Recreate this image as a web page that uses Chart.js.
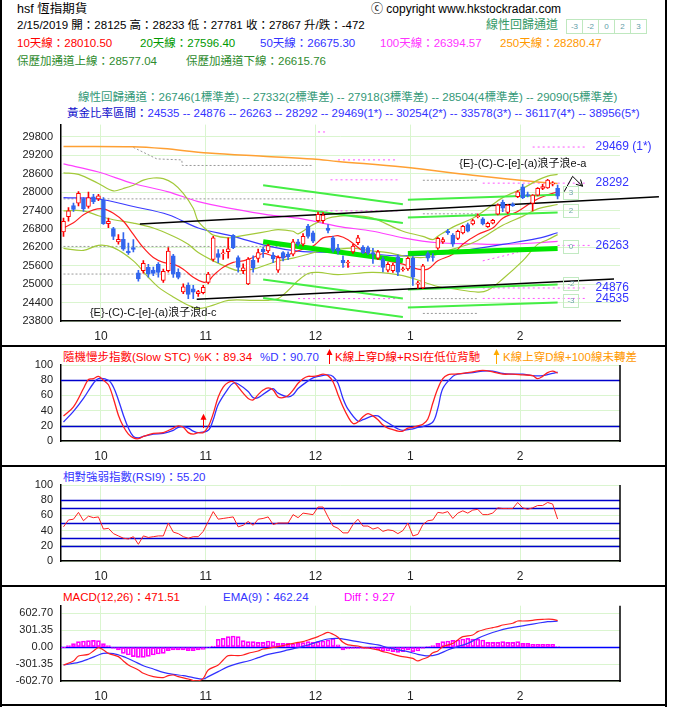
<!DOCTYPE html>
<html>
<head>
<meta charset="utf-8">
<title>hsf 恆指期貨</title>
<script src="https://cdn.jsdelivr.net/npm/chart.js@4.4.1/dist/chart.umd.min.js"></script>
<style>
html,body{margin:0;padding:0;background:#fff}
body{position:relative;width:677px;height:717px;overflow:hidden;font-family:"Liberation Sans","Noto Sans CJK TC",sans-serif;font-size:11.5px;color:#000}
.t{position:absolute;white-space:nowrap;line-height:14px}
canvas{position:absolute;left:0}
.bar{position:absolute;background:#000}
.cells{position:absolute;left:566px;top:19px;height:13px;display:flex;border:1px solid #bfe8bf}
.cells span{width:15px;font-size:8px;line-height:13px;text-align:center;color:#5f9ea8;border-left:1px solid #bfe8bf}
.cells span:first-child{border-left:none}
</style>
</head>
<body>
<div class="bar" style="left:0;top:0;width:2px;height:707px"></div>
<div class="bar" style="left:665px;top:0;width:2px;height:707px"></div>
<div class="bar" style="left:0;top:345px;width:667px;height:2px"></div>
<div class="bar" style="left:0;top:465px;width:667px;height:2px"></div>
<div class="bar" style="left:0;top:585px;width:667px;height:2px"></div>
<div class="bar" style="left:0;top:704px;width:667px;height:2px"></div>

<div class="t" style="left:17px;top:2px;font-size:12.5px">hsf 恆指期貨</div>
<div class="t" style="left:371px;top:2px;font-size:12px">ⓒ copyright www.hkstockradar.com</div>
<div class="t" style="left:17px;top:18px">2/15/2019 開：28125 高：28233 低：27781 收：27867 升/跌：-472</div>
<div class="t" style="left:486px;top:18px;font-size:12px;color:#339966">線性回歸通道</div>
<div class="cells"><span>-3</span><span>-2</span><span>0</span><span>2</span><span>3</span></div>
<div class="t" style="left:17px;top:36px;color:#ff0000">10天線：28010.50</div>
<div class="t" style="left:140px;top:36px;color:#009900">20天線：27596.40</div>
<div class="t" style="left:260px;top:36px;color:#3333ff">50天線：26675.30</div>
<div class="t" style="left:380px;top:36px;color:#ff33ff">100天線：26394.57</div>
<div class="t" style="left:500px;top:36px;color:#ff9900">250天線：28280.47</div>
<div class="t" style="left:17px;top:54px;color:#2e8b2e">保歷加通道上線：28577.04</div>
<div class="t" style="left:186px;top:54px;color:#2e8b2e">保歷加通道下線：26615.76</div>
<div class="t" style="left:78px;top:90px;color:#339977">線性回歸通道：26746(1標準差) -- 27332(2標準差) -- 27918(3標準差) -- 28504(4標準差) -- 29090(5標準差)</div>
<div class="t" style="left:67px;top:106px"><span style="color:#1010cc">黃金比率區間：</span><span style="color:#3333ff">24535 -- 24876 -- 26263 -- 28292 -- 29469(1*) -- 30254(2*) -- 33578(3*) -- 36117(4*) -- 38956(5*)</span></div>

<div class="t" style="left:63px;top:350px;color:#ff0000">隨機慢步指數(Slow STC) %K：89.34</div>
<div class="t" style="left:260px;top:350px;color:#3333ff">%D：90.70</div>
<svg style="position:absolute;left:326px;top:349px" width="7" height="15"><path d="M3.5 0 L6.5 6 L4 6 L4 15 L3 15 L3 6 L0.5 6 Z" fill="#ff0000"/></svg>
<div class="t" style="left:335px;top:350px;color:#ff0000">K線上穿D線+RSI在低位背馳</div>
<svg style="position:absolute;left:493px;top:349px" width="7" height="15"><path d="M3.5 0 L6.5 6 L4 6 L4 15 L3 15 L3 6 L0.5 6 Z" fill="#ffaa00"/></svg>
<div class="t" style="left:503px;top:350px;color:#ff9900">K線上穿D線+100線未轉差</div>
<div class="t" style="left:63px;top:470px;color:#3333ff">相對強弱指數(RSI9)：55.20</div>
<div class="t" style="left:63px;top:590px;color:#ff0000">MACD(12,26)：471.51</div>
<div class="t" style="left:223px;top:590px;color:#3333ff">EMA(9)：462.24</div>
<div class="t" style="left:344px;top:590px;color:#ff00ff">Diff：9.27</div>

<canvas id="main" width="677" height="236" style="top:110px"></canvas>
<canvas id="stc" width="677" height="120" style="top:346px"></canvas>
<canvas id="rsi" width="677" height="120" style="top:466px"></canvas>
<canvas id="macd" width="677" height="120" style="top:586px"></canvas>

<script>
// trading days shown on the chart
const dates = ["9/18","9/19","9/20","9/21","9/24","9/26","9/27","9/28",
"10/2","10/3","10/4","10/5","10/8","10/9","10/10","10/11","10/12","10/15","10/16","10/18","10/19","10/22","10/23","10/24","10/25","10/26","10/29","10/30","10/31",
"11/1","11/2","11/5","11/6","11/7","11/8","11/9","11/12","11/13","11/14","11/15","11/16","11/19","11/20","11/21","11/22","11/23","11/26","11/27","11/28","11/29","11/30",
"12/3","12/4","12/5","12/6","12/7","12/10","12/11","12/12","12/13","12/14","12/17","12/18","12/19","12/20","12/21","12/24","12/27","12/28","12/31",
"1/2","1/3","1/4","1/7","1/8","1/9","1/10","1/11","1/14","1/15","1/16","1/17","1/18","1/21","1/22","1/23","1/24","1/25","1/28","1/29","1/30","1/31",
"2/1","2/4","2/8","2/11","2/12","2/13","2/14","2/15"];
const futureSlots = 12;

const open = [26700,27200,27560,27640,27780,27530,27850,27780,27740,26970,
26810,26380,26460,26080,26190,25370,25440,25550,25460,25650,
25120,25440,25920,25390,24750,24960,24850,24690,24720,25060,
25810,26000,25990,26060,26590,25870,25440,25010,25780,25840,
26140,26080,25950,25460,26030,25980,25980,26380,26300,26890,
26670,27070,27070,26830,26510,26180,25780,25690,26050,26350,
26210,26190,26030,25850,25820,25460,25440,25890,25470,25500,
25850,25000,24880,26000,25900,26170,26380,26720,26600,26490,
26670,26940,26960,27200,27130,26875,26990,27280,27670,27335,
27600,27850,28170,27920,27635,27900,28120,28140,28260,28125];
const high = [27150,27500,27640,28020,27820,28000,27930,27930,27820,27150,
26850,26620,26680,26340,26450,25450,25770,25650,25560,25700,
25490,26190,25970,25500,25010,25040,24960,24800,24960,25390,
26560,26130,26130,26510,26620,25920,25660,25870,25920,26140,
26220,26300,26030,25920,26060,26050,26460,26460,26650,26950,
26730,27350,27330,26940,26560,26300,25920,25780,26300,26590,
26260,26240,26170,26100,25880,25700,25680,25960,25560,25880,
25900,25100,25650,26050,26000,26530,26520,26790,26650,26760,
26920,26990,27110,27290,27170,27020,27110,27620,27740,27600,
27650,28050,28250,28000,27920,28150,28250,28420,28340,28233];
const low = [26560,27050,27370,27550,27370,27480,27620,27720,26950,26840,
26450,26300,26100,25970,26050,25100,25360,25230,25280,25230,
25060,25390,25220,25170,24690,24530,24530,24600,24680,25010,
25750,25700,25810,25850,26160,25390,25340,24980,25390,25720,
25870,26030,25700,25380,25760,25800,25920,26250,26250,26500,
26350,27030,26990,26670,26040,25980,25550,25550,26000,26290,
25990,25960,25680,25800,25400,25400,25380,25280,25420,25450,
24960,24860,24860,25750,25750,26130,26330,26620,26230,26450,
26640,26700,26930,27160,26930,26850,26960,27260,27360,27300,
27530,27820,27790,27840,27390,27880,28080,28120,28200,27781];
const close = [27050,27390,27440,27960,27450,27820,27690,27880,26970,27050,
26560,26460,26140,26030,26130,25170,25680,25330,25350,25380,
25420,26080,25330,25220,24910,24670,24740,24760,24900,25330,
26510,25870,26020,26150,26190,25550,25530,25820,25530,26030,
26060,26260,25820,25870,25850,25890,26380,26300,26560,26560,
26400,27280,27250,26750,26100,26080,25700,25720,26240,26510,
26030,26030,25980,26050,25550,25650,25620,25390,25500,25840,
25225,25040,25600,25850,25870,26490,26450,26680,26300,26725,
26885,26725,27070,27230,26960,26980,27080,27580,27475,27580,
27560,28010,27820,27880,27900,28120,28180,28390,28290,27867];

// moving averages / bands as [day index, value]
const ma10 = [[0,26830],[2,27000],[4,27260],[6,27420],[8,27455],[10,27310],[12,27050],[14,26620],[16,26190],[18,25870],[20,25710],[22,25654],[24,25490],[26,25225],[28,25065],[29,25100],[30,25280],[32,25550],[34,25710],[36,25760],[38,25870],[40,26000],[42,25920],[44,25870],[46,26030],[48,26140],[50,26240],[52,26510],[54,26560],[55,26580],[57,26450],[60,26080],[63,25870],[65,25760],[68,25654],[71,25490],[73,25490],[75,25760],[78,25975],[80,26300],[83,26620],[86,26830],[88,27150],[91,27370],[94,27690],[96,27850],[99,28010.5]];
const ma20 = [[0,27390],[4,27390],[7,27230],[10,27100],[14,26990],[18,26830],[22,26560],[25,26300],[27,26030],[30,25760],[33,25546],[35,25440],[38,25490],[41,25650],[43,25760],[46,25850],[49,25975],[51,26060],[55,26140],[58,26170],[62,26080],[65,26030],[68,25920],[72,25870],[75,25975],[78,26140],[82,26350],[85,26620],[88,26920],[92,27210],[95,27455],[99,27596.4]];
const bollUp = [[0,28630],[3,28580],[7,28280],[10,28040],[12,28118],[14,28225],[16,28390],[18,28460],[20,28440],[22,28280],[24,27960],[26,27475],[27,27046],[29,26725],[30,26600],[33,26510],[35,26560],[38,26640],[41,26725],[43,26780],[46,26725],[47,26640],[50,26940],[53,27150],[55,27210],[58,27240],[62,27150],[65,26940],[68,26725],[72,26560],[74,26450],[75,26560],[78,26860],[82,27150],[85,27475],[88,27820],[92,28118],[95,28390],[97,28520],[99,28577.04]];
const bollDn = [[0,26168],[4,26100],[7,26265],[10,26190],[14,25760],[17,25225],[19,24904],[22,24582],[25,24315],[27,24208],[30,24315],[33,24475],[38,24475],[41,24475],[43,24530],[45,24796],[47,25118],[49,25350],[51,25385],[55,25310],[62,25385],[68,25280],[75,24925],[78,24850],[83,24743],[85,24800],[88,25170],[92,25760],[95,26296],[97,26450],[99,26615.76]];
const ma50 = [[0,27820],[7,27775],[14,27530],[21,27261],[27,26830],[34,26560],[41,26240],[47,26080],[55,26030],[62,25975],[68,25920],[75,25975],[82,26140],[88,26296],[95,26490],[99,26675.3]];
const ma100 = [[0,28920],[7,28654],[14,28280],[21,28010],[27,27690],[34,27455],[41,27260],[47,27150],[55,26885],[62,26725],[68,26511],[75,26350],[82,26318],[88,26296],[95,26350],[99,26394.57]];
const ma250 = [[0,29490],[14,29480],[20,29420],[29,29275],[40,29170],[50,29080],[55,29000],[68,28815],[82,28546],[95,28332],[99,28280.47]];

// regression channels: [from, to], start values, end values (-3,-2,0,2,3 order top→bottom)
const chanOld = {from:40, to:68, start:[28225,27614,26382,25150,24550], end:[27604,26993,25761,24530,23930]};
const chanNow = {from:69, to:99, start:[27755,27169,25997,24825,24239], end:[27918,27332,26160,24988,24402]};
const chanMid = 2;
const trendUpper = [[15.3,26961],[119.3,27850]];
const trendLower = [[26.7,24507],[110.3,25172]];
const projection = [[100.3,28011],[102,28514],[104,28193]];

// dotted reference levels [from, to, value]
const grayStep = [[14,29457],[18.7,29082],[23.7,29050],[23.8,28868],[50,28868]];
const grayLevels = [[0,50,27780],[0,50,26230],[0,50,25330],[72,83,28386],[72,83,27293],[72,83,24529],[72,83,24047]];
const goldLevels = [[51,53,29960],[55,67,29050],[53.5,67.5,28400],[50.5,67.5,27390],[47,67.5,25580],[47,67.5,24530],
  [94,105,29469],[84,105,28292],[99,105.5,26263],[84,105,24876],[84,105,24535]];
const goldRise = [[84,25760],[91,26030]];
const goldLabels = [[106.6,29469,"29469 (1*)"],[106.6,28292,"28292"],[106.6,26263,"26263"],[106.6,24876,"24876"],[106.6,24535,"24535"]];
const chanBoxes = [[101.6,27956,"3"],[101.6,27390,"2"],[101.6,26211,"0"],[101.6,25012,"-2"],[101.6,24443,"-3"]];
const waveLabels = [[5.3,24067,"{E}-(C)-C-[e]-(a)浪子浪d-c"],[79.3,28920,"{E}-(C)-C-[e]-(a)浪子浪e-a"]];
const priceTicks = [23800,24400,25000,25600,26200,26800,27400,28000,28600,29200,29800];

// slow stochastic
const stcK = [[0,33],[2,45],[4,69],[5,81],[6,82],[7,85],[8,80],[9,74],[10,56],[11,34],[12,19],[13,9],[14,4],[15,3],[16,6],[18,10],[20,11],[22,17],[23,20],[24,18],[25,11],[26,9],[27,11],[28,11],[29,19],[30,36],[31,58],[32,71],[33,77],[34,78],[35,71],[36,63],[37,56],[38,54],[39,61],[40,67],[41,70],[42,67],[43,58],[44,57],[45,60],[46,67],[47,76],[48,82],[49,85],[50,85],[51,86],[52,88],[53,86],[54,78],[55,61],[56,45],[57,32],[58,23],[59,25],[60,32],[61,36],[62,33],[63,28],[64,21],[65,17],[66,15],[67,13],[68,13],[69,17],[70,18],[71,20],[72,22],[73,29],[74,50],[75,69],[76,82],[77,87],[78,88],[80,89],[82,91],[84,93],[86,91],[88,88],[90,88],[92,87],[94,86],[95,82],[96,85],[97,90],[98,92],[99,89.34]];
const stcD = [[0,25],[2,39],[4,56],[6,76],[7,82],[9,80],[10,71],[11,54],[12,34],[13,17],[14,6],[15,4],[16,6],[18,9],[20,10],[22,14],[23,18],[24,19],[25,17],[26,13],[27,11],[29,14],[30,28],[31,48],[33,69],[34,76],[35,75],[37,65],[38,57],[39,57],[41,66],[42,69],[43,63],[45,58],[46,61],[47,69],[49,79],[50,83],[51,85],[53,87],[54,85],[55,76],[56,56],[57,42],[59,26],[60,28],[62,33],[63,33],[64,28],[66,20],[67,16],[68,14],[70,16],[71,18],[72,19],[74,25],[75,43],[76,69],[78,85],[79,88],[82,90],[84,92],[86,92],[88,89],[90,88],[92,88],[94,86],[96,86],[98,89],[99,90.7]];
const stcLevels = [80,20];
const stcSignals = [[28,17,36]];
const pctTicks = [0,20,40,60,80,100];

// RSI(9)
const rsi = [45,54,55,64,53,59,57,58,42,43, 36,33,30,29,32,22,33,31,32,33,
33,50,38,36,32,30,32,32,39,52, 65,55,56,57,58,45,47,52,47,55,
56,58,48,50,50,50,61,57,63,62, 61,71,71,58,46,43,37,37,48,55,
46,46,42,44,39,41,40,36,40,50, 33,35,48,53,54,64,63,65,56,63,
66,63,67,68,61,61,63,70,69,69, 69,77,70,68,70,73,73,77,75,55.2];
const rsiLevels = [80,70,50,30,20];

// MACD
const macd = [[0,-318],[2,-246],[3,-157],[5,-128],[6,-68],[7,-9],[8,-50],[9,-110],[11,-169],[12,-246],[13,-318],[15,-407],[16,-466],[18,-525],[20,-543],[21,-508],[22,-496],[23,-525],[25,-567],[26,-595],[27,-600],[28,-555],[29,-407],[31,-318],[32,-229],[33,-151],[35,-151],[36,-140],[37,-110],[39,-68],[40,-33],[41,-21],[43,9],[44,27],[45,50],[47,86],[48,98],[49,128],[51,187],[52,229],[53,264],[54,229],[55,175],[56,86],[57,40],[59,21],[60,-9],[61,-15],[63,-50],[64,-80],[65,-100],[67,-151],[68,-169],[70,-200],[71,-246],[72,-211],[73,-180],[74,-100],[75,-68],[76,9],[78,68],[79,128],[80,187],[82,217],[83,276],[84,306],[86,347],[87,365],[88,395],[90,425],[91,466],[92,466],[94,478],[95,490],[96,496],[98,496],[99,471.51]];
const ema = [[0,-318],[3,-270],[5,-211],[7,-140],[8,-110],[10,-116],[12,-169],[14,-246],[16,-330],[18,-389],[20,-448],[22,-484],[24,-508],[26,-543],[28,-567],[29,-525],[31,-436],[33,-347],[35,-288],[37,-246],[39,-187],[41,-128],[43,-92],[45,-50],[47,-9],[49,39],[51,98],[53,145],[55,157],[57,128],[59,98],[61,68],[63,39],[65,-9],[67,-50],[69,-80],[71,-128],[73,-157],[75,-128],[77,-50],[79,9],[81,68],[83,157],[85,229],[87,288],[89,335],[91,365],[93,395],[95,425],[97,454],[99,462.24]];
const diff = [-5,27,62,98,110,116,122,116,62,27,
-21,-50,-110,-140,-169,-181,-181,-163,-140,-122,
-110,-62,-50,-50,-50,-62,-62,-50,-39,-9,
21,140,157,187,199,187,116,98,98,86,
86,110,98,68,68,68,50,68,80,98,
86,98,110,128,157,40,-50,-33,-21,-21,
-21,-21,-33,-50,-68,-68,-80,-92,-80,-50,
-80,-68,-21,5,27,68,98,110,122,128,
145,157,145,140,128,86,86,86,98,86,
86,98,68,68,50,50,50,50,50,9.27];
const macdTicks = [-602.7,-301.35,0,301.35,602.7];

// ---------- helpers ----------
Chart.defaults.font.family = '"Liberation Sans","Noto Sans CJK TC",sans-serif';
Chart.defaults.font.size = 11;
Chart.defaults.color = '#222';
const gridColor = '#daf5cf';

const monthStarts = [];
dates.forEach((d,i)=>{
  const m = d.split('/')[0];
  if(i>0 && m!==dates[i-1].split('/')[0]) monthStarts.push({i:i, label:m});
});

const P = pairs => pairs.map(([x,y])=>({x:x,y:y}));
const seg = ([x0,x1,v]) => [{x:x0,y:v},{x:x1,y:v}];
function line(data,color,width,more){
  return Object.assign({type:'line',data:data,borderColor:color,borderWidth:width,pointRadius:0,fill:false,tension:0},more||{});
}

function xScale(){
  return {
    type:'linear', min:-0.5, max:dates.length+futureSlots-0.5, offset:false,
    afterBuildTicks: s=>{ s.ticks = monthStarts.map(m=>({value:m.i-0.5})); },
    afterFit: s=>{ s.height = 25; },
    ticks:{autoSkip:false, maxRotation:0, padding:8, font:{size:12},
      callback: v=>{ const m = monthStarts.find(q=>q.i-0.5===v); return m ? m.label : ''; }},
    grid:{color:gridColor, drawTicks:false, offset:false},
    border:{color:'#000', width:1.5}
  };
}
function yScale(min,max,ticks,fmt){
  return {
    min:min, max:max, offset:false,
    afterBuildTicks: s=>{ s.ticks = ticks.map(v=>({value:v})); },
    afterFit: s=>{ s.width = 61; },
    ticks:{padding:8, autoSkip:false, callback:fmt},
    grid:{color:gridColor, drawTicks:false},
    border:{color:'#000', width:1.5}
  };
}

const levels = {
  id:'levels',
  beforeDatasetsDraw(chart,args,o){
    if(!o.values) return;
    const {ctx, chartArea:a, scales:{y}} = chart;
    ctx.save();
    ctx.strokeStyle = o.color; ctx.lineWidth = o.width;
    o.values.forEach(v=>{
      const py = Math.round(y.getPixelForValue(v))+0.5;
      ctx.beginPath(); ctx.moveTo(a.left,py); ctx.lineTo(a.right,py); ctx.stroke();
    });
    ctx.restore();
  }
};
const frame = {
  id:'frame',
  afterDraw(chart,args,o){
    if(!o.right) return;
    const {ctx, chartArea:a} = chart;
    ctx.save();
    ctx.strokeStyle='#000'; ctx.lineWidth=1.5;
    ctx.beginPath(); ctx.moveTo(a.right,a.top); ctx.lineTo(a.right,a.bottom+1); ctx.stroke();
    ctx.restore();
  }
};
const annotate = {
  id:'annotate',
  afterDatasetsDraw(chart,args,o){
    const {ctx, scales:{x,y}} = chart;
    const px = v=>x.getPixelForValue(v), py = v=>y.getPixelForValue(v);
    ctx.save();
    ctx.textBaseline='middle';
    (o.boxes||[]).forEach(([i,v,t])=>{
      const cx=Math.round(px(i)), cy=Math.round(py(v));
      ctx.strokeStyle='#c2eac2'; ctx.lineWidth=1;
      ctx.strokeRect(cx-7.5,cy-6.5,15,13);
      ctx.fillStyle='#6fa3ad'; ctx.font='8px "Liberation Sans"'; ctx.textAlign='center';
      ctx.fillText(t,cx,cy);
    });
    (o.labels||[]).forEach(g=>{
      ctx.fillStyle=g.color; ctx.font=g.font; ctx.textAlign='left';
      g.items.forEach(([i,v,t])=>ctx.fillText(t,px(i),py(v)));
    });
    if(o.head){
      const n=o.head.length, a=o.head[n-2], b=o.head[n-1];
      const x0=px(a[0]), y0=py(a[1]), x1=px(b[0]), y1=py(b[1]);
      const ang=Math.atan2(y1-y0,x1-x0);
      ctx.strokeStyle='#000'; ctx.lineWidth=1; ctx.beginPath();
      [ang+Math.PI-0.5, ang+Math.PI+0.5].forEach(t=>{ ctx.moveTo(x1,y1); ctx.lineTo(x1+7*Math.cos(t),y1+7*Math.sin(t)); });
      ctx.stroke();
    }
    (o.arrows||[]).forEach(([i,v0,v1])=>{
      const cx=Math.round(px(i))+0.5, y0=py(v0), y1=py(v1);
      ctx.strokeStyle=o.arrowColor; ctx.fillStyle=o.arrowColor; ctx.lineWidth=1;
      ctx.beginPath(); ctx.moveTo(cx,y0); ctx.lineTo(cx,y1+4); ctx.stroke();
      ctx.beginPath(); ctx.moveTo(cx,y1); ctx.lineTo(cx-3,y1+6); ctx.lineTo(cx+3,y1+6); ctx.closePath(); ctx.fill();
    });
    ctx.restore();
  }
};

function makeChart(id,padTop,datasets,y,plug){
  return new Chart(document.getElementById(id),{
    type:'line',
    data:{datasets:datasets},
    options:{
      responsive:false, animation:false, events:[],
      layout:{padding:{top:padTop,right:57,left:0,bottom:0}},
      plugins:Object.assign({legend:{display:false},tooltip:{enabled:false}},plug),
      scales:{x:xScale(), y:y}
    },
    plugins:[levels,frame,annotate]
  });
}

// ---------- main price chart ----------
const upColor = '#ff0000', downColor = '#3366ee';
const candleColor = open.map((o,i)=>close[i]>=o ? upColor : downColor);
const bodyFill = open.map((o,i)=>close[i]>=o ? '#ffffff' : downColor);

const mainSets = [
  {type:'bar', data:open.map((o,i)=>({x:i,y:[o,close[i]]})), backgroundColor:bodyFill, borderColor:candleColor,
   borderWidth:1, borderSkipped:false, barThickness:4, grouped:false, order:0},
  {type:'bar', data:open.map((o,i)=>({x:i,y:[low[i],high[i]]})), backgroundColor:candleColor,
   barThickness:1, grouped:false, order:1},
  line(P(trendUpper),'#000',1.5,{order:2,clip:false}),
  line(P(trendLower),'#000',1.5,{order:2,clip:false}),
  line(P(projection),'#000',1,{order:2,clip:false})
];
[chanOld,chanNow].forEach(c=>{
  c.start.forEach((s,k)=>{
    const mid = k===chanMid;
    mainSets.push(line([{x:c.from,y:s},{x:c.to,y:c.end[k]}], mid?'#00e600':'#44ee44', mid?5:2, {order:3}));
  });
});
mainSets.push(
  line(P(ma10),'#ff2020',1.2,{order:4,tension:0.35}),
  line(P(ma20),'#a3c93a',1.2,{order:4,tension:0.35}),
  line(P(bollUp),'#a3c93a',1.2,{order:4,tension:0.35}),
  line(P(bollDn),'#a3c93a',1.2,{order:4,tension:0.35}),
  line(P(ma50),'#3a3aff',1.2,{order:4,tension:0.35}),
  line(P(ma100),'#ff40ff',1.2,{order:4,tension:0.35}),
  line(P(ma250),'#ffa033',1.5,{order:4,tension:0.35}),
  line(P(grayStep),'#999999',1,{order:6,borderDash:[2,2]}),
  line(P(goldRise),'#ff55ff',1,{order:6,borderDash:[2,3]})
);
grayLevels.forEach(s=>mainSets.push(line(seg(s),'#999999',1,{order:6,borderDash:[2,2]})));
goldLevels.forEach(s=>mainSets.push(line(seg(s),'#ff55ff',1,{order:6,borderDash:[2,3]})));

makeChart('main',11.7,mainSets,yScale(23800,30200,priceTicks,v=>String(v)),{
  annotate:{
    boxes:chanBoxes,
    head:projection,
    labels:[
      {color:'#3333ff', font:'12px "Liberation Sans"', items:goldLabels},
      {color:'#111111', font:'11px "Liberation Sans","Noto Sans CJK TC"', items:waveLabels}
    ]
  }
});

// ---------- slow STC ----------
makeChart('stc',19,[
  line(P(stcK),'#ff2020',1.3,{order:0,tension:0.35}),
  line(P(stcD),'#3030ff',1.3,{order:1,tension:0.35})
],yScale(0,100,pctTicks,v=>String(v)),{
  levels:{values:stcLevels,color:'#0000cc',width:1.5},
  frame:{right:true},
  annotate:{arrows:stcSignals,arrowColor:'#ff0000'}
});

// ---------- RSI ----------
makeChart('rsi',19,[
  line(rsi.map((v,i)=>({x:i,y:v})),'#ff2020',1,{order:0})
],yScale(0,100,pctTicks,v=>String(v)),{
  levels:{values:rsiLevels,color:'#0000cc',width:1.5},
  frame:{right:true}
});

// ---------- MACD ----------
makeChart('macd',19.7,[
  line(P(macd),'#ff2020',1.2,{order:0,tension:0.3}),
  line(P(ema),'#3030ff',1.2,{order:1,tension:0.3}),
  {type:'bar', data:diff.map((v,i)=>({x:i,y:v})), backgroundColor:'rgba(0,0,0,0)', borderColor:'#ff00ff',
   borderWidth:1, borderSkipped:false, barThickness:4, grouped:false, order:2}
],yScale(-602.7,738,macdTicks,v=>v.toFixed(2)),{
  levels:{values:[0],color:'#0000ff',width:1.5},
  frame:{right:true}
});
</script>
</body>
</html>
